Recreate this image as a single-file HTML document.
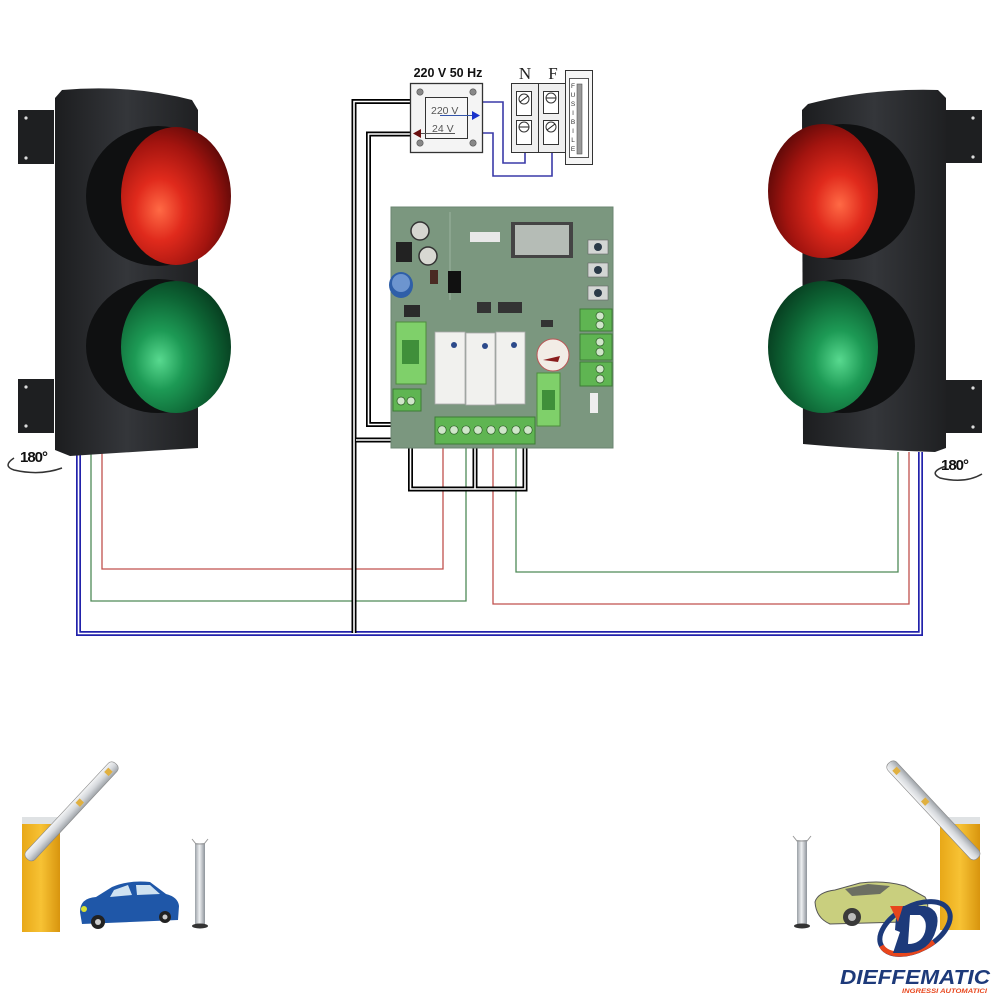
<!DOCTYPE html>
<html><head><meta charset="utf-8"><style>
html,body{margin:0;padding:0;background:#fff;width:1000px;height:1000px;overflow:hidden}
svg{display:block}
</style></head><body>
<svg width="1000" height="1000" viewBox="0 0 1000 1000" xmlns="http://www.w3.org/2000/svg" font-family="Liberation Sans, sans-serif">
<defs>
<linearGradient id="body" x1="0" x2="1" y1="0" y2="0">
<stop offset="0" stop-color="#1c1d1f"/><stop offset="0.5" stop-color="#34363a"/><stop offset="1" stop-color="#1f2022"/>
</linearGradient>
<radialGradient id="redL" cx="0.35" cy="0.6" r="0.75">
<stop offset="0" stop-color="#ff6a45"/><stop offset="0.3" stop-color="#e02a1c"/><stop offset="0.65" stop-color="#a3140f"/><stop offset="1" stop-color="#4a0606"/>
</radialGradient>
<radialGradient id="redR" cx="0.65" cy="0.6" r="0.75">
<stop offset="0" stop-color="#ff6a45"/><stop offset="0.3" stop-color="#e02a1c"/><stop offset="0.65" stop-color="#a3140f"/><stop offset="1" stop-color="#4a0606"/>
</radialGradient>
<radialGradient id="grnL" cx="0.35" cy="0.6" r="0.75">
<stop offset="0" stop-color="#58d98f"/><stop offset="0.3" stop-color="#1d9a55"/><stop offset="0.65" stop-color="#0d6434"/><stop offset="1" stop-color="#05321a"/>
</radialGradient>
<radialGradient id="grnR" cx="0.65" cy="0.6" r="0.75">
<stop offset="0" stop-color="#58d98f"/><stop offset="0.3" stop-color="#1d9a55"/><stop offset="0.65" stop-color="#0d6434"/><stop offset="1" stop-color="#05321a"/>
</radialGradient>
<linearGradient id="yel" x1="0" x2="1"><stop offset="0" stop-color="#e8a818"/><stop offset="0.5" stop-color="#f7c234"/><stop offset="1" stop-color="#d8950e"/></linearGradient>
<linearGradient id="steel" x1="0" x2="1"><stop offset="0" stop-color="#9aa0a6"/><stop offset="0.45" stop-color="#eef0f2"/><stop offset="1" stop-color="#8d939a"/></linearGradient>
<linearGradient id="arm" x1="0" x2="0" y1="0" y2="1"><stop offset="0" stop-color="#f4f5f6"/><stop offset="0.5" stop-color="#d5d8dc"/><stop offset="1" stop-color="#9ea3a8"/></linearGradient>
</defs>

<!-- ===== wires (behind) ===== -->
<g fill="none">
  <polyline points="102,452 102,569 443,569 443,445" stroke="#c0504d" stroke-width="1.3"/>
  <polyline points="91,452 91,601 466,601 466,445" stroke="#4f8a58" stroke-width="1.3"/>
  <polyline points="493,445 493,604 909,604 909,452" stroke="#c0504d" stroke-width="1.3"/>
  <polyline points="516,445 516,572 898,572 898,452" stroke="#4f8a58" stroke-width="1.3"/>
  <polyline points="78.5,452 78.5,633.5 920.5,633.5 920.5,452" stroke="#2222aa" stroke-width="5"/>
  <polyline points="78.5,452 78.5,633.5 920.5,633.5 920.5,452" stroke="#fff" stroke-width="1.6"/>
  <g>
    <polyline points="412,101.5 354,101.5 354,633" stroke="#000" stroke-width="5"/>
    <polyline points="412,134 368.5,134 368.5,424.5 402,424.5 402,411" stroke="#000" stroke-width="5"/>
    <polyline points="354,440 410.5,440" stroke="#000" stroke-width="5"/>
    <polyline points="410.5,411 410.5,489 525,489 525,444" stroke="#000" stroke-width="5"/>
    <polyline points="475,489 475,444" stroke="#000" stroke-width="5"/>
    <polyline points="412,101.5 354,101.5 354,633" stroke="#fff" stroke-width="1.6"/>
    <polyline points="412,134 368.5,134 368.5,424.5 402,424.5 402,411" stroke="#fff" stroke-width="1.6"/>
    <polyline points="356,440 410.5,440" stroke="#fff" stroke-width="1.6"/>
    <polyline points="410.5,411 410.5,489 525,489 525,444" stroke="#fff" stroke-width="1.6"/>
    <polyline points="475,489 475,444" stroke="#fff" stroke-width="1.6"/>
  </g>
  <polyline points="482,102 503,102 503,163 525,163 525,148" stroke="#3a3aa8" stroke-width="1.6"/>
  <polyline points="482,133 493,133 493,176 552,176 552,148" stroke="#3a3aa8" stroke-width="1.6"/>
</g>

<!-- ===== transformer ===== -->
<text x="448" y="77" font-size="12.5" font-weight="bold" text-anchor="middle" fill="#111">220 V 50 Hz</text>
<rect x="410.5" y="83.5" width="72" height="69" fill="#f4f4f4" stroke="#333" stroke-width="1.3"/>
<rect x="425.5" y="97.5" width="42" height="41" fill="#f7f7f7" stroke="#333" stroke-width="1"/>
<circle cx="420" cy="92" r="3.2" fill="#888" stroke="#555" stroke-width="0.6"/>
<circle cx="473" cy="92" r="3.2" fill="#888" stroke="#555" stroke-width="0.6"/>
<circle cx="420" cy="143" r="3.2" fill="#888" stroke="#555" stroke-width="0.6"/>
<circle cx="473" cy="143" r="3.2" fill="#888" stroke="#555" stroke-width="0.6"/>
<text x="431" y="114" font-size="10.5" fill="#555">220 V</text>
<line x1="440" y1="115.5" x2="473" y2="115.5" stroke="#3355aa" stroke-width="1"/>
<polygon points="472,111 480,115.5 472,120" fill="#1a33cc"/>
<text x="432" y="132" font-size="10.5" fill="#555">24 V</text>
<line x1="418" y1="133.5" x2="455" y2="133.5" stroke="#555" stroke-width="1"/>
<polygon points="421,129 413,133.5 421,138" fill="#6a1010"/>

<!-- terminal N F -->
<text x="525" y="79" font-size="17" text-anchor="middle" fill="#222" font-family="Liberation Serif, serif">N</text>
<text x="553" y="79" font-size="17" text-anchor="middle" fill="#222" font-family="Liberation Serif, serif">F</text>
<rect x="511.5" y="83.5" width="27" height="69" fill="#efefef" stroke="#333"/>
<rect x="538.5" y="83.5" width="27" height="69" fill="#efefef" stroke="#333"/>
<g stroke="#333" fill="#fff">
<rect x="516.5" y="91.5" width="15" height="24"/><rect x="516.5" y="120.5" width="15" height="24"/>
<rect x="543.5" y="91.5" width="15" height="22"/><rect x="543.5" y="120.5" width="15" height="24"/>
<circle cx="524" cy="99" r="5"/><circle cx="524" cy="127" r="5"/>
<circle cx="551" cy="98" r="5"/><circle cx="551" cy="127" r="5"/>
</g>
<g stroke="#222" stroke-width="1">
<line x1="520" y1="102" x2="528" y2="96"/><line x1="519" y1="127" x2="529" y2="127"/>
<line x1="546" y1="98" x2="556" y2="98"/><line x1="547" y1="130" x2="555" y2="124"/>
</g>
<rect x="565.5" y="70.5" width="27" height="94" fill="#f5f5f5" stroke="#333"/>
<rect x="569.5" y="78.5" width="19" height="79" fill="#fff" stroke="#555"/>
<rect x="577" y="84" width="5" height="70" fill="#999" stroke="#555" stroke-width="0.6"/>
<g font-size="6.5" fill="#333" text-anchor="middle">
<text x="573" y="88">F</text><text x="573" y="97">U</text><text x="573" y="106">S</text><text x="573" y="115">I</text>
<text x="573" y="124">B</text><text x="573" y="133">I</text><text x="573" y="142">L</text><text x="573" y="151">E</text>
</g>

<!-- ===== PCB board ===== -->
<rect x="391" y="207" width="222" height="241" fill="#7b977f"/>
<rect x="391" y="207" width="222" height="241" fill="none" stroke="#6b8670" stroke-width="1"/>
<line x1="450" y1="212" x2="450" y2="300" stroke="#9bb39f" stroke-width="1"/>
<circle cx="420" cy="231" r="9" fill="#d6d6d0" stroke="#333" stroke-width="1.5"/>
<rect x="396" y="242" width="16" height="20" fill="#222"/>
<circle cx="428" cy="256" r="9" fill="#d8d8d2" stroke="#333" stroke-width="1.5"/>
<ellipse cx="401" cy="285" rx="12" ry="13" fill="#2f5fa8"/>
<ellipse cx="401" cy="283" rx="9" ry="9" fill="#6d95cf"/>
<rect x="430" y="270" width="8" height="14" fill="#4a2a22"/>
<rect x="448" y="271" width="13" height="22" fill="#111"/>
<rect x="404" y="305" width="16" height="12" fill="#2a2a2a"/>
<rect x="511" y="222" width="62" height="36" fill="#444"/>
<rect x="515" y="225" width="54" height="30" fill="#b5bcb6"/>
<rect x="470" y="232" width="30" height="10" fill="#e8e8e8"/>
<rect x="477" y="302" width="14" height="11" fill="#333"/>
<rect x="498" y="302" width="24" height="11" fill="#333"/>
<rect x="541" y="320" width="12" height="7" fill="#333"/>
<g fill="#d3d6d4" stroke="#666" stroke-width="0.6">
<rect x="588" y="240" width="20" height="14"/><rect x="588" y="263" width="20" height="14"/><rect x="588" y="286" width="20" height="14"/>
</g>
<g fill="#2a3a48"><circle cx="598" cy="247" r="4"/><circle cx="598" cy="270" r="4"/><circle cx="598" cy="293" r="4"/></g>
<rect x="396" y="322" width="30" height="62" fill="#7fd06a" stroke="#4c8d3c"/>
<rect x="402" y="340" width="17" height="24" fill="#3f8f3a"/>
<rect x="537" y="373" width="23" height="53" fill="#7fd06a" stroke="#4c8d3c"/>
<rect x="542" y="390" width="13" height="20" fill="#3f8f3a"/>
<g fill="#f1f1ee" stroke="#aaa" stroke-width="0.8">
<rect x="435" y="332" width="30" height="72"/><rect x="466" y="333" width="29" height="72"/><rect x="496" y="332" width="29" height="72"/>
</g>
<g fill="#2c4a8a"><circle cx="454" cy="345" r="3"/><circle cx="485" cy="346" r="3"/><circle cx="514" cy="345" r="3"/></g>
<circle cx="553" cy="355" r="16" fill="#f2ece6" stroke="#b55" stroke-width="1"/>
<path d="M543,360 L560,356 L558,362 Z" fill="#8a1c1c"/>
<rect x="580" y="309" width="32" height="22" fill="#5fb552" stroke="#3e7d35"/>
<rect x="580" y="334" width="32" height="26" fill="#5fb552" stroke="#3e7d35"/>
<rect x="580" y="362" width="32" height="24" fill="#5fb552" stroke="#3e7d35"/>
<g fill="#cfe6c9" stroke="#2c5a25" stroke-width="0.7">
<circle cx="600" cy="316" r="4"/><circle cx="600" cy="325" r="4"/><circle cx="600" cy="342" r="4"/><circle cx="600" cy="352" r="4"/><circle cx="600" cy="369" r="4"/><circle cx="600" cy="379" r="4"/>
</g>
<rect x="590" y="393" width="8" height="20" fill="#eee"/>
<rect x="393" y="389" width="28" height="22" fill="#5fb552" stroke="#3e7d35"/>
<g fill="#cfe6c9" stroke="#2c5a25" stroke-width="0.7"><circle cx="401" cy="401" r="4"/><circle cx="411" cy="401" r="4"/></g>
<rect x="435" y="417" width="100" height="27" fill="#5fb552" stroke="#3e7d35"/>
<g fill="#cfe6c9" stroke="#2c5a25" stroke-width="0.7">
<circle cx="442" cy="430" r="4.2"/><circle cx="454" cy="430" r="4.2"/><circle cx="466" cy="430" r="4.2"/><circle cx="478" cy="430" r="4.2"/>
<circle cx="491" cy="430" r="4.2"/><circle cx="503" cy="430" r="4.2"/><circle cx="516" cy="430" r="4.2"/><circle cx="528" cy="430" r="4.2"/>
</g>

<!-- ===== left traffic light ===== -->
<g>
  <rect x="18" y="110" width="36" height="54" fill="#1e1f21"/>
  <rect x="18" y="379" width="36" height="54" fill="#1e1f21"/>
  <circle cx="26" cy="118" r="1.6" fill="#ddd"/><circle cx="26" cy="158" r="1.6" fill="#ddd"/>
  <circle cx="26" cy="387" r="1.6" fill="#ddd"/><circle cx="26" cy="426" r="1.6" fill="#ddd"/>
  <path d="M62,90 Q130,84 192,100 L198,110 L198,448 Q130,452 70,456 L55,450 L55,98 Z" fill="url(#body)"/>
  <ellipse cx="158" cy="196" rx="72" ry="70" fill="#0f1011"/>
  <ellipse cx="176" cy="196" rx="55" ry="69" fill="url(#redL)"/>
  <ellipse cx="158" cy="346" rx="72" ry="67" fill="#0f1011"/>
  <ellipse cx="176" cy="347" rx="55" ry="66" fill="url(#grnL)"/>
</g>
<text x="20" y="462" font-size="15" font-weight="bold" fill="#111" letter-spacing="-1">180°</text>
<path d="M14,458 Q2,466 14,470 Q40,476 62,468" fill="none" stroke="#333" stroke-width="1.5"/>

<!-- ===== right traffic light ===== -->
<g>
  <rect x="945" y="110" width="37" height="53" fill="#1e1f21"/>
  <rect x="945" y="380" width="37" height="53" fill="#1e1f21"/>
  <circle cx="973" cy="118" r="1.6" fill="#ddd"/><circle cx="973" cy="157" r="1.6" fill="#ddd"/>
  <circle cx="973" cy="388" r="1.6" fill="#ddd"/><circle cx="973" cy="427" r="1.6" fill="#ddd"/>
  <path d="M808,104 Q870,88 938,90 L946,98 L946,448 L935,452 Q870,450 803,444 L802,110 Z" fill="url(#body)"/>
  <ellipse cx="843" cy="192" rx="72" ry="68" fill="#0f1011"/>
  <ellipse cx="823" cy="191" rx="55" ry="67" fill="url(#redR)"/>
  <ellipse cx="843" cy="346" rx="72" ry="67" fill="#0f1011"/>
  <ellipse cx="823" cy="347" rx="55" ry="66" fill="url(#grnR)"/>
</g>
<text x="941" y="470" font-size="15" font-weight="bold" fill="#111" letter-spacing="-1">180°</text>
<path d="M946,466 Q928,472 940,478 Q965,484 982,474" fill="none" stroke="#333" stroke-width="1.5"/>

<!-- ===== bottom left barrier ===== -->
<rect x="22" y="817" width="38" height="115" fill="url(#yel)"/>
<rect x="22" y="817" width="38" height="7" fill="#dfe2e4"/>
<g transform="translate(30,856) rotate(-47)">
  <rect x="-4" y="-6" width="130" height="12" rx="5" fill="url(#arm)" stroke="#888" stroke-width="0.6"/>
  <rect x="70" y="-3" width="6" height="6" fill="#e0b040"/><rect x="112" y="-3" width="6" height="6" fill="#e0b040"/>
</g>
<path d="M80,912 Q80,898 96,897 L112,887 Q128,880 150,882 L166,894 Q178,897 179,906 L178,920 L82,924 Z" fill="#1f57a8"/>
<path d="M114,890 L128,885 L132,895 L110,897 Z M136,885 L150,885 L160,894 L137,895 Z" fill="#cfe2f1"/>
<circle cx="98" cy="922" r="7" fill="#222"/><circle cx="98" cy="922" r="3" fill="#ccc"/>
<circle cx="165" cy="917" r="6" fill="#222"/><circle cx="165" cy="917" r="2.5" fill="#ccc"/>
<ellipse cx="84" cy="909" rx="3" ry="3" fill="#d8e030"/>
<rect x="195" y="843" width="10" height="83" fill="url(#steel)"/>
<ellipse cx="200" cy="926" rx="8" ry="2.5" fill="#333"/>
<path d="M192,839 L196,844 L204,844 L208,839" fill="none" stroke="#999" stroke-width="1"/>

<!-- ===== bottom right barrier ===== -->
<rect x="940" y="817" width="40" height="113" fill="url(#yel)"/>
<rect x="940" y="817" width="40" height="7" fill="#dfe2e4"/>
<g transform="translate(975,855) rotate(-133)">
  <rect x="-4" y="-6" width="130" height="12" rx="5" fill="url(#arm)" stroke="#888" stroke-width="0.6"/>
  <rect x="70" y="-3" width="6" height="6" fill="#e0b040"/><rect x="112" y="-3" width="6" height="6" fill="#e0b040"/>
</g>
<rect x="797" y="840" width="10" height="86" fill="url(#steel)"/>
<ellipse cx="802" cy="926" rx="8" ry="2.5" fill="#333"/>
<path d="M793,836 L797,841 L807,841 L811,836" fill="none" stroke="#999" stroke-width="1"/>
<path d="M815,902 Q818,892 835,890 L860,883 Q885,880 905,886 L925,897 Q930,905 926,915 L905,922 L830,924 Q816,918 815,902 Z" fill="#c9cf7e" stroke="#555" stroke-width="1"/>
<path d="M845,889 L868,884 L890,886 L880,894 L852,896 Z" fill="#6c6f62"/>
<circle cx="852" cy="917" r="9" fill="#3a3a3a"/><circle cx="852" cy="917" r="4" fill="#bbb"/>
<circle cx="913" cy="910" r="7" fill="#3a3a3a"/>

<!-- ===== logo ===== -->
<g transform="translate(915,928) rotate(-28)">
  <ellipse cx="0" cy="0" rx="38" ry="22" fill="none" stroke="#1d3a7a" stroke-width="5"/>
  <path d="M-38,0 A38,22 0 0 0 10,21" fill="none" stroke="#e8461c" stroke-width="5"/>
</g>
<path d="M897,906 L925,906 Q942,910 936,930 Q930,952 906,953 L893,953 L900,932 L895,930 Z" fill="#1d3a7a"/>
<path d="M910,915 L920,915 Q928,920 925,932 Q921,944 908,944 Z" fill="#fff"/>
<path d="M890,906 L903,906 L898,922 Z" fill="#e8461c"/>
<text x="840" y="984" font-size="20" font-weight="bold" font-style="italic" fill="#1d3a7a" textLength="150" lengthAdjust="spacingAndGlyphs">DIEFFEMATIC</text>
<text x="902" y="993" font-size="6.5" font-weight="bold" font-style="italic" fill="#e8461c" textLength="85" lengthAdjust="spacingAndGlyphs">INGRESSI AUTOMATICI</text>
</svg>
</body></html>
